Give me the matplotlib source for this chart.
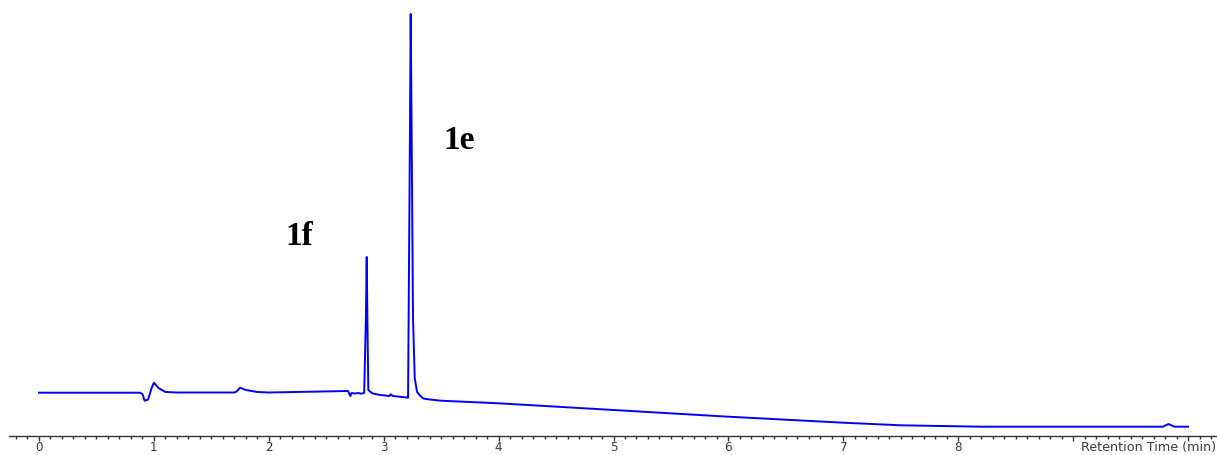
import matplotlib
matplotlib.use("Agg")
import matplotlib.pyplot as plt
from matplotlib.ticker import MultipleLocator

# Chromatogram (retention time in min, detector signal, arbitrary units)
time_min = [0.0, 0.88, 0.90, 0.92, 0.95, 0.98, 1.00, 1.04, 1.10, 1.20,
            1.70, 1.72, 1.75, 1.80, 1.90, 2.00, 2.69, 2.71, 2.72, 2.75,
            2.78, 2.80, 2.83, 2.845, 2.852, 2.858, 2.866, 2.90, 2.97, 3.05,
            3.06, 3.08, 3.20, 3.212, 3.228, 3.235, 3.242, 3.255, 3.27, 3.29,
            3.32, 3.345, 3.40, 3.50, 4.0, 5.0, 6.0, 7.0, 7.5, 8.2,
            9.78, 9.83, 9.88, 10.0]
signal = [45.3, 45.3, 44.0, 37.3, 38.5, 50.0, 55.3, 50.0, 46.0, 45.5,
          45.5, 46.5, 50.3, 48.0, 46.0, 45.5, 47.0, 42.0, 45.0, 44.5,
          45.0, 44.3, 45.0, 120.0, 181.0, 120.0, 48.0, 44.7, 43.0, 42.0,
          43.7, 42.0, 40.5, 40.3, 300.0, 424.0, 320.0, 120.0, 60.0, 46.0,
          42.0, 39.5, 38.5, 37.3, 34.7, 28.0, 21.3, 15.3, 12.7, 11.3,
          11.3, 14.0, 11.3, 11.3]

peak_labels = ["1f", "1e"]
peak_label_x = [2.145, 3.52]
peak_label_y = [193, 289]

major_ticks = [0, 1, 2, 3, 4, 5, 6, 7, 8, 9, 10]
major_tick_labels = ["0", "1", "2", "3", "4", "5", "6", "7", "8", "", ""]
axis_title = "Retention Time (min)"

W, H = 1217, 455
fig = plt.figure(figsize=(W / 100, H / 100), dpi=100)
ax = fig.add_axes([9 / W, 19 / H, 1208 / W, 436 / H])

ax.plot(time_min, signal, color="#0000ff", linewidth=1.4, solid_joinstyle="round")

ax.set_xlim(-0.261, 10.252)
ax.set_ylim(2, 438)

for s in ["top", "left", "right"]:
    ax.spines[s].set_visible(False)
ax.spines["bottom"].set_color("#333333")
ax.spines["bottom"].set_linewidth(1.0)
ax.set_yticks([])

ax.set_xticks(major_ticks)
ax.set_xticklabels(major_tick_labels)
ax.xaxis.set_minor_locator(MultipleLocator(0.1))
ax.tick_params(axis="x", which="major", direction="out", length=3.6, width=1.0,
               color="#333333", pad=0.2, labelsize=8.6, labelcolor="#3a3a3a")
ax.tick_params(axis="x", which="minor", direction="out", length=2.3, width=1.0,
               color="#333333")
for lab in ax.get_xticklabels():
    lab.set_fontfamily("DejaVu Sans")

fig.text(0.9995, 0.5 / H, axis_title, ha="right", va="bottom",
         fontsize=9.2, color="#3a3a3a", family="DejaVu Sans")

for lab, x, y in zip(peak_labels, peak_label_x, peak_label_y):
    ax.text(x, y, lab, ha="left", va="baseline", fontsize=24, fontweight="bold",
            family="Liberation Serif", color="black")

fig.savefig("out.png", dpi=100)
